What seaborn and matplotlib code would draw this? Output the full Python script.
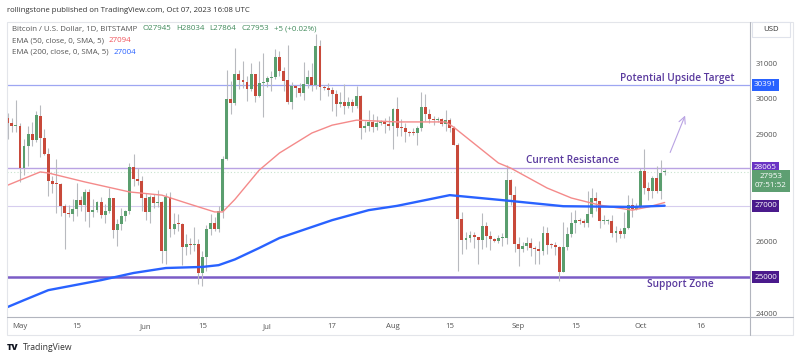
import matplotlib
matplotlib.use("Agg")
import matplotlib.pyplot as plt
import matplotlib.dates as mdates
from matplotlib.patches import Rectangle
from matplotlib.lines import Line2D
import numpy as np
import pandas as pd
import seaborn as sns

# daily BTC/USD candles, Apr 28 .. Oct 07 2023
dates = pd.date_range("2023-04-28", "2023-10-07", freq="D")

opens = [
    29470, 29310, 29230,
    29240, 28070, 28670, 29020, 28840, 29530, 28900, 28450, 27690, 27620, 27610, 26990, 26800, 26780, 26920, 27170,
    27030, 27400, 26820, 26890, 27110, 26750, 26850, 27220, 26330, 26480, 26720, 26870, 28080, 27740, 27700,
    27220, 26820, 27250, 27070, 27120, 25740, 27240, 26350, 26500, 26480, 25850, 25940, 25900, 25920, 25120,
    25580, 26340, 26510, 26340, 26850, 28310, 30000, 29890, 30690, 30530, 30470, 30270, 30690, 30080, 30450,
    30470, 30590, 30620, 31160, 30770, 30510, 29900, 30350, 30290, 30170, 30410, 30620, 30390, 31470, 30320,
    30290, 30250, 30140, 29860, 29910, 29800, 29900, 29790, 30080, 29180, 29230, 29350, 29210, 29310, 29350, 29280,
    29230, 29700, 29180, 29170, 29080, 29050, 29040, 29180, 29770, 29560, 29430, 29400, 29420, 29280, 29400,
    29170, 28700, 26630, 26050, 26100, 26190, 26120, 26040, 26430, 26160, 26060, 26010, 26090, 26100, 27720, 27300,
    25940, 25800, 25870, 25970, 25810, 25780, 25750, 26240, 25910, 25900, 25840, 25160, 25840, 26220, 26530,
    26600, 26570, 26530, 26760, 27210, 27130, 26570, 26580, 26580, 26250, 26300, 26220, 26370, 27020, 26910,
    26970, 27980, 27500, 27430, 27780, 27410, 27945,
]
highs = [
    29590, 29460, 29960,
    29320, 28880, 29250, 29350, 29670, 29830, 29160, 28630, 27830, 28320, 27630, 27050, 27030, 27190, 27650,
    27270, 27470, 27480, 27190, 27150, 27260, 27050, 27490, 27220, 26620, 26930, 26880, 28200, 28450, 28050, 27830,
    27350, 27300, 27320, 27450, 27140, 27370, 27390, 26800, 26780, 26520, 26200, 26090, 26410, 26080, 25750,
    26470, 26780, 26690, 26990, 28400, 30800, 30500, 31430, 30800, 31050, 30650, 31000, 30700, 31050, 31280,
    30650, 30780, 31390, 31330, 30890, 31500, 30460, 30390, 30440, 31040, 30800, 30990, 31820, 31640, 30390,
    30440, 30340, 30240, 30190, 30420, 30060, 29990, 30350, 30100, 29370, 29680, 29580, 29530, 29410, 29450, 29520,
    29730, 30050, 29420, 29320, 29110, 29170, 29240, 30190, 30130, 29710, 29530, 29480, 29460, 29690, 29470,
    29240, 28770, 26830, 26280, 26290, 26260, 26130, 26800, 26550, 26300, 26110, 26180, 26230, 28140, 27760, 27550,
    26140, 25980, 26130, 26100, 25890, 26030, 26440, 26410, 25950, 26000, 25880, 26550, 26400, 26830, 26890,
    26670, 26620, 27420, 27500, 27380, 27150, 26740, 26640, 26740, 26430, 26390, 26820, 27300, 27230, 27090,
    28050, 28580, 27660, 27830, 28130, 28280, 28034,
]
lows = [
    28880, 29080, 29070,
    27670, 27870, 28120, 28670, 28800, 28380, 28430, 27290, 27350, 26790, 26710, 25800, 26700, 26580, 26730,
    26860, 26580, 26400, 26690, 26830, 26670, 26530, 26800, 26100, 25880, 26330, 26570, 26770, 27560, 27580, 26860,
    26610, 26520, 26930, 26960, 25400, 25380, 26130, 26210, 26290, 25350, 25620, 25640, 25730, 24820, 24760,
    25170, 26180, 26290, 26270, 26660, 28280, 29560, 29820, 30270, 30300, 29930, 30220, 29920, 30060, 29500,
    30330, 30220, 30560, 30650, 30220, 29850, 29720, 30050, 30080, 29960, 30300, 30220, 30260, 29960, 30250,
    30080, 29660, 29530, 29770, 29570, 29730, 29630, 29750, 28860, 29060, 29100, 29070, 29130, 29260, 29030, 29120,
    28580, 28960, 28950, 28780, 28960, 28980, 28700, 29110, 29380, 29330, 29260, 29360, 29250, 29100, 29080,
    28700, 25170, 25640, 25800, 25980, 25810, 25370, 25800, 25860, 25770, 25980, 25970, 25880, 25920, 27030, 25700,
    25330, 25720, 25760, 25600, 25380, 25360, 25620, 25640, 25820, 25620, 24900, 25140, 25760, 26140, 26230,
    26480, 26420, 26400, 26680, 26850, 26380, 26480, 26500, 26140, 26000, 26090, 26110, 26340, 26680, 26890,
    26950, 27330, 27160, 27220, 27350, 27180, 27864,
]
closes = [
    29310, 29230, 29240,
    28070, 28670, 29020, 28840, 29530, 28900, 28450, 27690, 27620, 27610, 26990, 26800, 26780, 26920, 27170,
    27030, 27400, 26820, 26890, 27110, 26750, 26850, 27220, 26330, 26480, 26720, 26870, 28080, 27740, 27700, 27220,
    26820, 27250, 27070, 27120, 25740, 27240, 26350, 26500, 26480, 25850, 25940, 25900, 25920, 25120, 25580,
    26340, 26510, 26340, 26850, 28310, 30000, 29890, 30690, 30530, 30470, 30270, 30690, 30080, 30450, 30470,
    30590, 30620, 31160, 30770, 30510, 29900, 30350, 30290, 30170, 30410, 30620, 30390, 31470, 30320, 30290,
    30250, 30140, 29860, 29910, 29800, 29900, 29790, 30080, 29180, 29230, 29350, 29210, 29310, 29350, 29280, 29230,
    29700, 29180, 29170, 29080, 29050, 29040, 29180, 29770, 29560, 29430, 29400, 29420, 29280, 29400, 29170,
    28700, 26630, 26050, 26100, 26190, 26120, 26040, 26430, 26160, 26060, 26010, 26090, 26100, 27720, 27300, 25940,
    25800, 25870, 25970, 25810, 25780, 25750, 26240, 25910, 25900, 25840, 25160, 25840, 26220, 26530, 26600,
    26570, 26530, 26760, 27210, 27130, 26570, 26580, 26580, 26250, 26300, 26220, 26370, 27020, 26910, 26970,
    27980, 27500, 27430, 27780, 27410, 27930, 27953,
]

# EMA lines
ema50_dates = ["2023-04-28", "2023-05-01", "2023-05-06", "2023-05-08", "2023-05-17", "2023-05-28", "2023-06-05",
               "2023-06-11", "2023-06-18", "2023-06-20", "2023-06-23", "2023-06-29", "2023-07-04", "2023-07-12",
               "2023-07-17", "2023-07-23", "2023-08-02", "2023-08-14", "2023-08-16", "2023-08-27", "2023-08-30",
               "2023-09-08", "2023-09-14", "2023-09-21", "2023-09-29", "2023-10-03", "2023-10-07"]
ema50_vals = [27580, 27720, 27950, 27920, 27670, 27390, 27300, 27080, 26830, 26830, 27180, 28000, 28480, 29040,
              29260, 29400, 29350, 29350, 29200, 28200, 28060, 27500, 27220, 27020, 26880, 26970, 27094]
ema200_dates = ["2023-04-28", "2023-05-02", "2023-05-08", "2023-05-21", "2023-05-29", "2023-06-06", "2023-06-15",
                "2023-06-19", "2023-06-23", "2023-06-29", "2023-07-04", "2023-07-17", "2023-07-26", "2023-08-02",
                "2023-08-15", "2023-08-28", "2023-09-12", "2023-09-29", "2023-10-07"]
ema200_vals = [24170, 24360, 24640, 24920, 25120, 25260, 25290, 25340, 25500, 25820, 26100, 26600, 26880, 27000,
               27300, 27160, 26990, 26970, 27004]

levels = [30391, 28065, 27000, 25000]
last_price = 27953

tick_dates = ["2023-05-01", "2023-05-15", "2023-06-01", "2023-06-15", "2023-07-01", "2023-07-17",
              "2023-08-01", "2023-08-15", "2023-09-01", "2023-09-15", "2023-10-01", "2023-10-16"]
tick_labels = ["May", "15", "Jun", "15", "Jul", "17", "Aug", "15", "Sep", "15", "Oct", "16"]
price_ticks = [24000, 26000, 29000, 30000, 31000]

sns.set_theme(style="white")
plt.rcParams["font.family"] = ["Open Sans", "DejaVu Sans"]

UP = "#5a9e6e"
DOWN = "#c8493a"
PURPLE_TXT = "#5a3a9e"

W, H = 800, 359
fig = plt.figure(figsize=(8, 3.59), dpi=100)


def fx(x):
    return x / W


def fy(y):
    return 1 - y / H


ax = fig.add_axes([fx(7), fy(317), fx(750) - fx(7), fy(22) - fy(317)])

x = mdates.date2num(dates)
o = np.array(opens)
c = np.array(closes)
up = c >= o
cols = np.where(up, UP, DOWN)

ax.vlines(x, lows, highs, color="#b8babf", linewidth=0.8, zorder=2)
body = np.maximum(np.abs(c - o), 28)
ax.bar(x, body, bottom=np.minimum(o, c), width=0.72, color=cols, linewidth=0, zorder=3)

ema50 = pd.DataFrame({"date": pd.to_datetime(ema50_dates), "v": ema50_vals})
ema200 = pd.DataFrame({"date": pd.to_datetime(ema200_dates), "v": ema200_vals})
sns.lineplot(data=ema50, x="date", y="v", color="#f48a8a", linewidth=1.0, ax=ax, zorder=4)
sns.lineplot(data=ema200, x="date", y="v", color="#2962ff", linewidth=1.7, ax=ax, zorder=4)

# horizontal levels
ax.axhline(levels[0], color="#9ea6f2", linewidth=0.9, zorder=1)
ax.axhline(levels[1], color="#b9a3e3", linewidth=1.0, zorder=1)
ax.axhline(levels[2], color="#d6cdee", linewidth=0.8, zorder=1)
ax.axhline(levels[3], color="#7b5cc6", linewidth=1.8, zorder=1)
ax.axhline(last_price, color="#c8e3cf", linewidth=0.8, linestyle=(0, (1, 2)), zorder=1)

base = mdates.date2num(pd.Timestamp("2023-05-01"))
ax.set_xlim(base - 3.2, base + 180.05)
ax.set_ylim(23888, 32148)

for s in ax.spines.values():
    s.set_visible(False)

ax.set_xticks(mdates.date2num(pd.to_datetime(tick_dates)))
ax.set_xticklabels(tick_labels)
ax.yaxis.tick_right()
ax.set_yticks(price_ticks)
ax.set_yticklabels([str(v) for v in price_ticks])
ax.tick_params(axis="x", length=0, pad=4.5, labelsize=5.6, labelcolor="#555")
ax.tick_params(axis="y", length=0, pad=4.2, labelsize=5.6, labelcolor="#555")
ax.set_xlabel("")
ax.set_ylabel("")
ax.grid(False)

# annotations
ax.text(base + 162.0, 30580, "Potential Upside Target", color=PURPLE_TXT, fontsize=7.3,
        ha="center", va="center", fontweight="semibold")
ax.text(base + 136.3, 28283, "Current Resistance", color=PURPLE_TXT, fontsize=7.3,
        ha="center", va="center", fontweight="semibold")
ax.text(base + 162.8, 24810, "Support Zone", color=PURPLE_TXT, fontsize=7.3,
        ha="center", va="center", fontweight="semibold")
ax.annotate("", xy=(base + 164.3, 29600), xytext=(base + 160.1, 28423),
            arrowprops=dict(arrowstyle="->", color="#b9a3e3", lw=0.8))

# price axis labels
yt = ax.get_yaxis_transform()
box_x = (765.5 - 7) / (750 - 7)
for val, col in [(levels[0], "#2962ff"), (levels[1], "#6a35c4"), (levels[2], "#4a1a8c"), (levels[3], "#4a1a8c")]:
    ax.text(box_x, val, str(val), transform=yt, ha="center", va="center", fontsize=5.8, color="white",
            bbox=dict(boxstyle="square,pad=0.3", facecolor=col, edgecolor="none"), clip_on=False, zorder=6)
ax.text((771 - 7) / (750 - 7), 27700, f"{last_price}\n07:51:52", transform=yt, ha="center", va="center",
        fontsize=5.8, color="white", linespacing=1.35,
        bbox=dict(boxstyle="square,pad=0.35", facecolor="#5e9f72", edgecolor="none"), clip_on=False, zorder=6)

# frame
fig.add_artist(Rectangle((fx(7), fy(335)), fx(793) - fx(7), fy(22) - fy(335), transform=fig.transFigure,
                         fill=False, edgecolor="#e3e5ea", linewidth=0.8))
fig.add_artist(Line2D([fx(7), fx(793)], [fy(317), fy(317)], transform=fig.transFigure, color="#b2b5be", lw=0.8))
fig.add_artist(Line2D([fx(750), fx(750)], [fy(22), fy(335)], transform=fig.transFigure, color="#b2b5be", lw=0.8))
fig.add_artist(Rectangle((fx(752), fy(37)), fx(790) - fx(752), fy(22) - fy(37), transform=fig.transFigure,
                         facecolor="white", edgecolor="#e0e3eb", linewidth=0.8))
fig.text(fx(771), fy(29.5), "USD", ha="center", va="center", fontsize=5.6, color="#333")

# header and legend
fig.text(fx(7), fy(10), "rollingstone published on TradingView.com, Oct 07, 2023 16:08 UTC",
         fontsize=5.6, color="#333", va="center")

fig.canvas.draw()
rend = fig.canvas.get_renderer()


def chain(pieces, x0, y0, size=5.7, gap=5):
    xx = fx(x0)
    for s, col in pieces:
        t = fig.text(xx, fy(y0), s, fontsize=size, color=col, va="center", ha="left")
        bb = t.get_window_extent(renderer=rend)
        xx = bb.x1 / fig.bbox.width + gap / W


GRN = "#3f8a5a"
chain([("Bitcoin / U.S. Dollar, 1D, BITSTAMP", "#555"), ("O27945", GRN), ("H28034", GRN), ("L27864", GRN),
       ("C27953", GRN), ("+5 (+0.02%)", GRN)], 12, 29)
chain([("EMA (50, close, 0, SMA, 5)", "#555"), ("27094", "#f0525a")], 12, 40.7)
chain([("EMA (200, close, 0, SMA, 5)", "#555"), ("27004", "#2962ff")], 12, 52.3)

fig.text(fx(7), fy(347), "TV", fontsize=6.5, fontweight="heavy", color="#131722", va="center")
fig.text(fx(23), fy(347), "TradingView", fontsize=6.2, color="#333", va="center")

fig.savefig("out.png", dpi=100)
